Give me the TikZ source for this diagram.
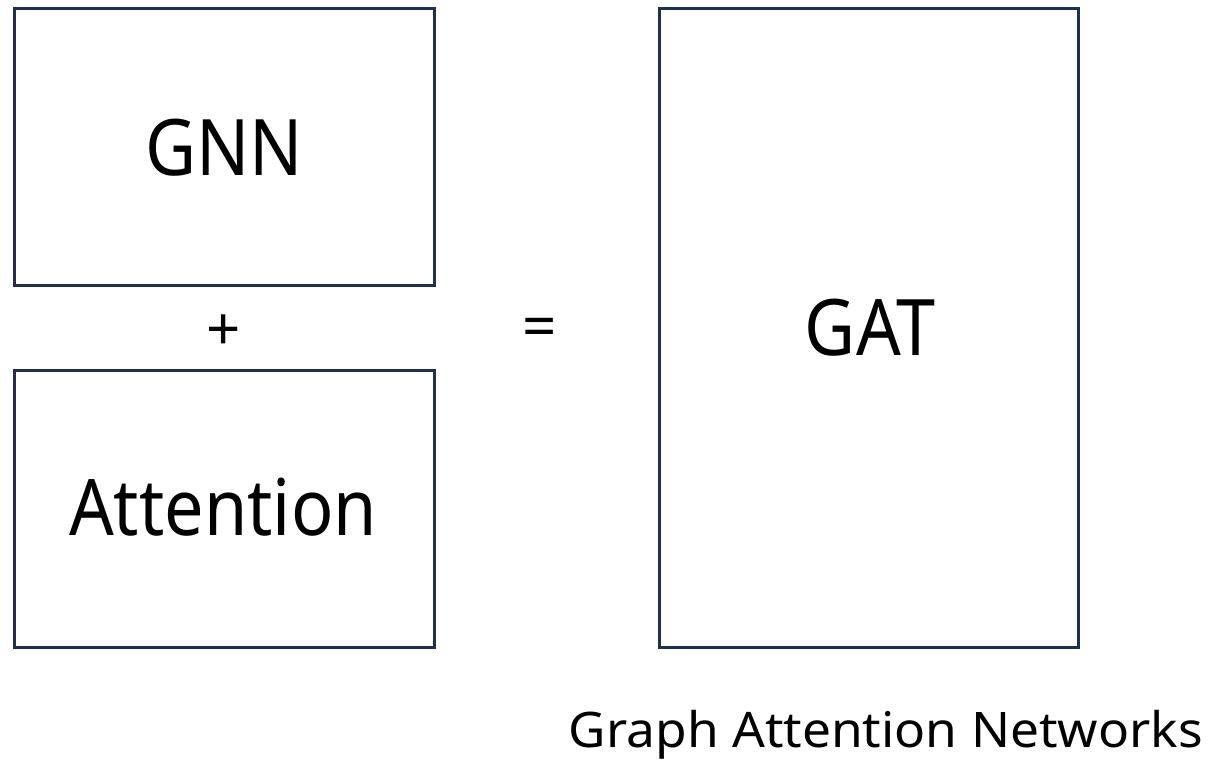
\documentclass[tikz,border=0pt]{standalone}
\usepackage{fontspec}
\setmainfont{Noto Sans}
\newfontfamily\blockfont[FakeStretch=0.9]{Noto Sans}
\newfontfamily\captionfont[FakeStretch=1.05]{Noto Sans}
\definecolor{boxline}{HTML}{1F3050}
\begin{document}
\begin{tikzpicture}[x=1pt,y=-1pt,
  blockbox/.style={draw=boxline,line width=3pt,fill=white},
  bigtext/.style={font=\blockfont\fontsize{78}{80}\selectfont,anchor=base,inner sep=0pt},
  optext/.style={font=\fontsize{60}{64}\selectfont,inner sep=0pt},
  captext/.style={font=\captionfont\fontsize{49}{52}\selectfont,anchor=base east,inner sep=0pt}]
  \useasboundingbox (0,0) rectangle (1211,764);
  % building blocks
  \draw[blockbox] (14.5,8) rectangle (434,285.5);
  \draw[blockbox] (14.5,370) rectangle (434,647);
  \draw[blockbox] (659.5,8) rectangle (1078.5,647);
  % labels
  \node[bigtext] (gnn) at (224,175) {GNN};
  \node[bigtext] (att) at (223,535) {Attention};
  \node[bigtext] (gat) at (870,355) {GAT};
  \node[optext] (plus) at (224,333) {+};
  \node[optext] (eq) at (540,333) {=};
  \node[captext] (cap) at (1203,747) {Graph Attention Networks};
\end{tikzpicture}
\end{document}
